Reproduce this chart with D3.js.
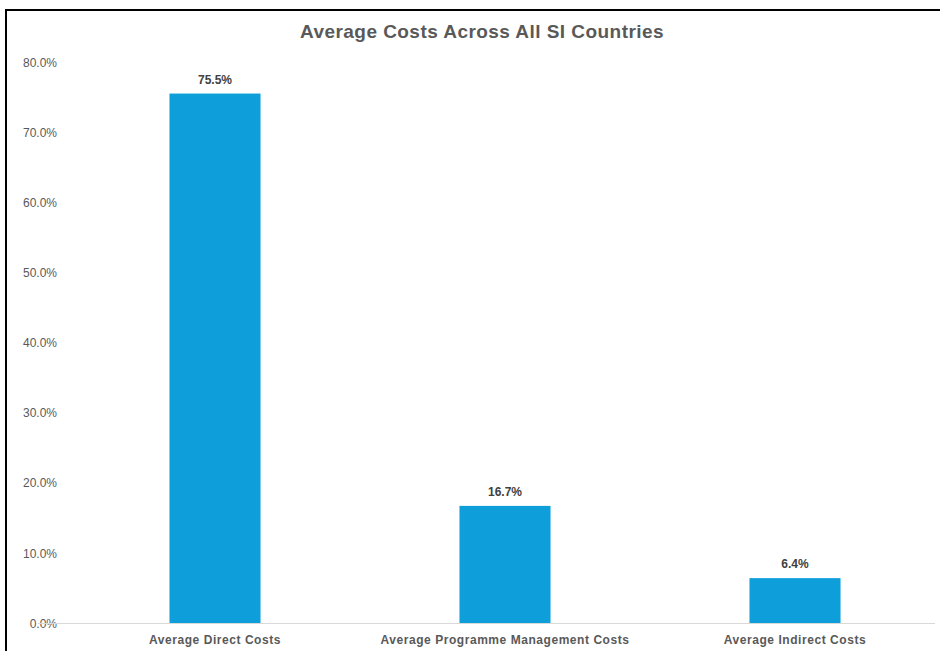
<!DOCTYPE html>
<html>
<head>
<meta charset="utf-8">
<script src="https://cdn.jsdelivr.net/npm/d3@7"></script>
<style>
  html, body { margin: 0; padding: 0; background: #fff; }
  svg { display: block; }
  text { font-family: "Liberation Sans", Arial, sans-serif; }
</style>
</head>
<body>
<svg id="chart" width="940" height="651"></svg>
<script>
// Cost shares averaged across countries
const categories = ["Average Direct Costs", "Average Programme Management Costs", "Average Indirect Costs"];
const shares = [75.5, 16.7, 6.4];
const yTicks = [0, 10, 20, 30, 40, 50, 60, 70, 80];
const title = "Average Costs Across All SI Countries";

const svg = d3.select("#chart");
const W = 940, H = 651;

// frame lines along top and left
svg.append("line").attr("x1", 5).attr("x2", W).attr("y1", 10).attr("y2", 10)
  .attr("stroke", "#000").attr("stroke-width", 2);
svg.append("line").attr("x1", 6).attr("x2", 6).attr("y1", 9).attr("y2", H)
  .attr("stroke", "#000").attr("stroke-width", 2);

const x = d3.scaleBand().domain(categories).range([70, 940])
  .paddingInner(0.686).paddingOuter(0.343);
const y = d3.scaleLinear().domain([0, 80]).range([623, 62]);

// y axis labels
const yAxis = d3.axisLeft(y).tickValues(yTicks).tickFormat(d => d.toFixed(1) + "%").tickSize(0).tickPadding(0);
const ya = svg.append("g").attr("transform", "translate(57,0)").call(yAxis);
ya.select(".domain").remove();
ya.selectAll("text").attr("fill", "#595959").attr("font-size", 12).attr("dy", "0.35em");

// baseline
svg.append("line").attr("x1", 38).attr("x2", 935).attr("y1", y(0) + 0.5).attr("y2", y(0) + 0.5)
  .attr("stroke", "#d9d9d9").attr("stroke-width", 1);

// bars
svg.append("g").selectAll("rect").data(categories).join("rect")
  .attr("x", d => x(d)).attr("width", x.bandwidth())
  .attr("y", (d, i) => y(shares[i])).attr("height", (d, i) => y(0) - y(shares[i]))
  .attr("fill", "#0e9fdb");

// value labels
svg.append("g").selectAll("text").data(categories).join("text")
  .attr("x", d => x(d) + x.bandwidth() / 2)
  .attr("y", (d, i) => y(shares[i]) - 10)
  .attr("text-anchor", "middle").attr("font-size", 12).attr("font-weight", "bold")
  .attr("fill", "#404040")
  .text((d, i) => shares[i].toFixed(1) + "%");

// category labels
const xAxis = d3.axisBottom(x).tickSize(0).tickPadding(0);
const xa = svg.append("g").attr("transform", `translate(0,${y(0)})`).call(xAxis);
xa.select(".domain").remove();
xa.selectAll("text").attr("fill", "#595959").attr("font-size", 12).attr("font-weight", "bold")
  .attr("letter-spacing", 0.55)
  .attr("y", 17).attr("dy", "0.35em");

// title
svg.append("text").attr("x", 482).attr("y", 31).attr("dy", "0.35em")
  .attr("text-anchor", "middle").attr("font-size", 19).attr("font-weight", "bold")
  .attr("letter-spacing", 0.45)
  .attr("fill", "#595959").text(title);
</script>
</body>
</html>
